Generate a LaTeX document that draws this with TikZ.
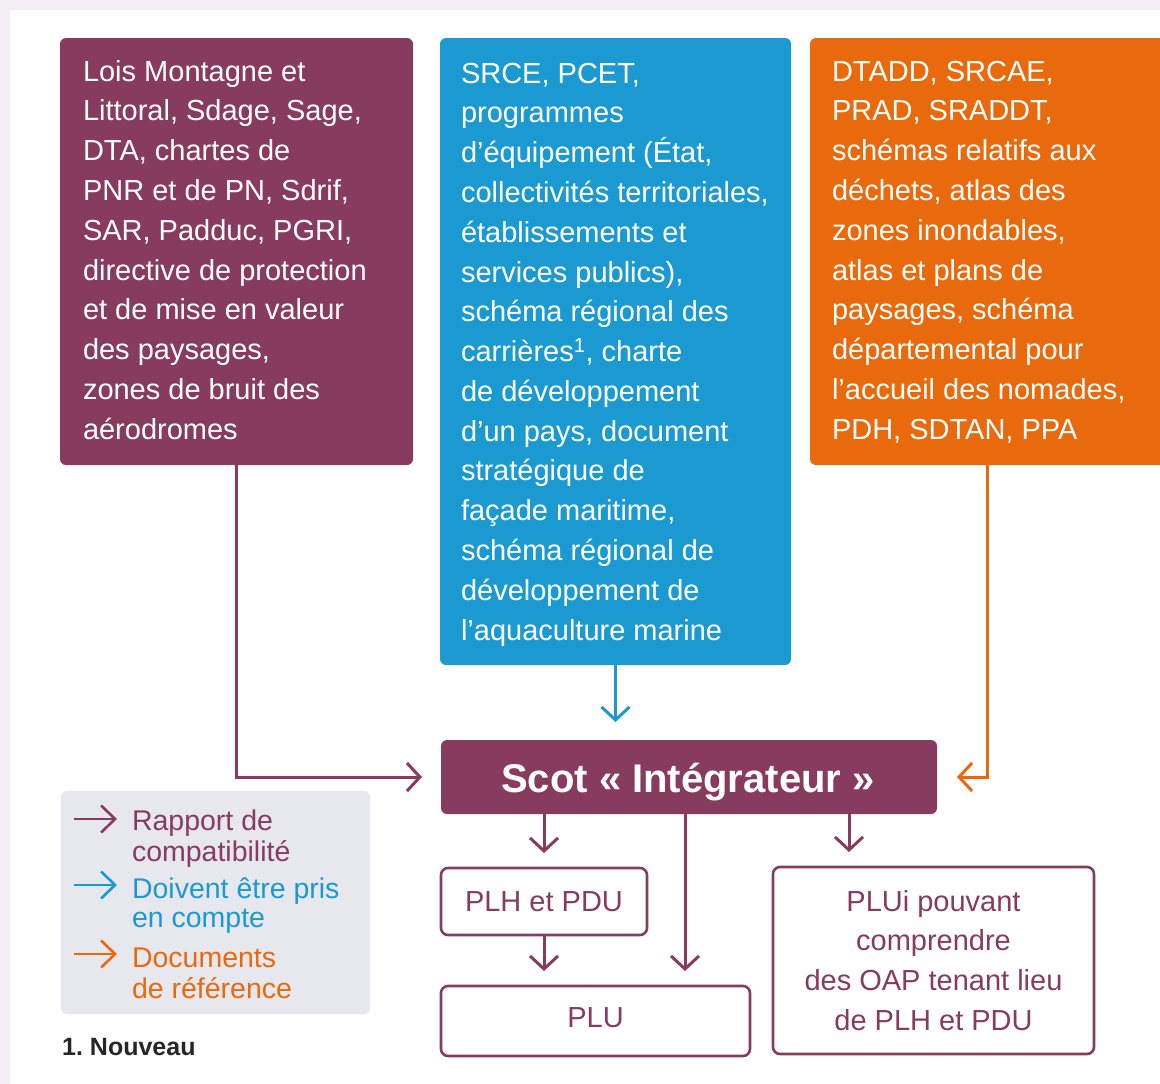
\documentclass[tikz,border=0pt]{standalone}
\usepackage{fontspec}
\setmainfont{Liberation Sans}
\usetikzlibrary{arrows.meta,calc}
\definecolor{cpurple}{HTML}{873B5F}
\definecolor{cblue}{HTML}{1B9AD2}
\definecolor{corange}{HTML}{E9690D}
\definecolor{clegend}{HTML}{E6E8EE}
\definecolor{cframe}{HTML}{F4EFF3}
\tikzset{
  topbox/.style={rectangle, rounded corners=6pt, inner sep=0pt, outer sep=0pt, anchor=north west},
  smallbox/.style={rectangle, rounded corners=7pt, draw=cpurple, line width=2.6pt, fill=white, inner sep=0pt, outer sep=0pt, anchor=north west},
  txt/.style={inner sep=0pt, outer sep=0pt, font=\fontsize{29}{39.8}\selectfont},
  arr/.style={line width=3pt, -{Straight Barb[length=13pt,width=28pt,line width=3pt]}},
  larr/.style={line width=2.6pt, -{Straight Barb[length=14pt,width=27pt,line width=2.6pt]}}
}
\begin{document}
\begin{tikzpicture}[x=1pt,y=-1pt]
\useasboundingbox (0,0) rectangle (1160,1084);
\fill[cframe] (0,0) rectangle (1160,1084);
\fill[white] (10,10) rectangle (1160,1084);

% top boxes
\node[topbox, fill=cpurple, minimum width=353pt, minimum height=427pt] (lbox) at (60,38) {};
\node[topbox, fill=cblue, minimum width=351pt, minimum height=627pt] (bbox) at (440,38) {};
\node[topbox, fill=corange, minimum width=370pt, minimum height=427pt] (obox) at (810,38) {};

\node[txt, text=white, anchor=base west] (ltext) at (83,81) {\vtop{%
\hbox{Lois Montagne et}
\hbox{Littoral, Sdage, Sage,}
\hbox{DTA, chartes de}
\hbox{PNR et de PN, Sdrif,}
\hbox{SAR, Padduc, PGRI,}
\hbox{directive de protection}
\hbox{et de mise en valeur}
\hbox{des paysages,}
\hbox{zones de bruit des}
\hbox{aérodromes}}};

\node[txt, text=white, anchor=base west] (btext) at (461,83) {\vtop{%
\hbox{SRCE, PCET,}
\hbox{programmes}
\hbox{d’équipement (État,}
\hbox{collectivités territoriales,}
\hbox{établissements et}
\hbox{services publics),}
\hbox{schéma régional des}
\hbox{carrières\textsuperscript{1}, charte}
\hbox{de développement}
\hbox{d’un pays, document}
\hbox{stratégique de}
\hbox{façade maritime,}
\hbox{schéma régional de}
\hbox{développement de}
\hbox{l’aquaculture marine}}};

\node[txt, text=white, anchor=base west] (otext) at (832,81) {\vtop{%
\hbox{DTADD, SRCAE,}
\hbox{PRAD, SRADDT,}
\hbox{schémas relatifs aux}
\hbox{déchets, atlas des}
\hbox{zones inondables,}
\hbox{atlas et plans de}
\hbox{paysages, schéma}
\hbox{départemental pour}
\hbox{l’accueil des nomades,}
\hbox{PDH, SDTAN, PPA}}};

% Scot
\node[topbox, fill=cpurple, minimum width=496pt, minimum height=74pt] (scot) at (441,740) {};
\node[inner sep=0pt, text=white, font=\fontsize{40}{48}\selectfont\bfseries, anchor=base] (scottext) at (688,792) {Scot « Intégrateur »};

% lower boxes
\node[smallbox, minimum width=206pt, minimum height=67pt] (plh) at (441,868) {};
\node[smallbox, minimum width=309pt, minimum height=70pt] (plu) at (441,986) {};
\node[smallbox, minimum width=321pt, minimum height=187pt] (plui) at (773,867) {};

\node[txt, text=cpurple] (plhtext) at (plh.center) {PLH et PDU};
\node[txt, text=cpurple] (plutext) at ($(plu.center)+(0,-3)$) {PLU};
\node[txt, text=cpurple, anchor=base] (pluitext) at (933.5,911) {\vtop{%
\hbox to 0pt{\hss PLUi pouvant\hss}
\hbox to 0pt{\hss comprendre\hss}
\hbox to 0pt{\hss des OAP tenant lieu\hss}
\hbox to 0pt{\hss de PLH et PDU\hss}}};

% connectors
\coordinate (ostart) at (987,465);
\draw[arr, cpurple, shorten >=19pt] (lbox.south) |- (scot.west);
\draw[arr, cblue, shorten >=18pt] (bbox.south) -- (bbox.south |- scot.north);
\draw[arr, corange, shorten >=20pt] (ostart) |- (scot.east);

\coordinate (s2) at (685,814);
\coordinate (s3) at (849,814);
\draw[arr, cpurple, shorten >=15pt] (plh.north |- scot.south) -- (plh.north);
\draw[arr, cpurple, shorten >=15pt] (s2) -- (s2 |- plu.north);
\draw[arr, cpurple, shorten >=15pt] (s3) -- (s3 |- plui.north);
\draw[arr, cpurple, shorten >=15pt] (plh.south) -- (plh.south |- plu.north);

% legend
\node[topbox, fill=clegend, minimum width=309pt, minimum height=223pt] (legend) at (61,791) {};
\coordinate (la1) at (74,819);
\coordinate (lb1) at (117,819);
\coordinate (la2) at (74,885);
\coordinate (lb2) at (117,885);
\coordinate (la3) at (74,954);
\coordinate (lb3) at (117,954);
\draw[larr, cpurple] (la1) -- (lb1);
\draw[larr, cblue] (la2) -- (lb2);
\draw[larr, corange] (la3) -- (lb3);
\node[txt, text=cpurple, anchor=base west, font=\fontsize{28.5}{31}\selectfont] (lt1) at (132,830) {\vtop{\hbox{Rapport de}\hbox{compatibilité}}};
\node[txt, text=cblue, anchor=base west, font=\fontsize{28.5}{29}\selectfont] (lt2) at (132,898) {\vtop{\hbox{Doivent être pris}\hbox{en compte}}};
\node[txt, text=corange, anchor=base west, font=\fontsize{28.5}{31}\selectfont] (lt3) at (132,967) {\vtop{\hbox{Documents}\hbox{de référence}}};

\node[inner sep=0pt, anchor=base west, font=\fontsize{25}{30}\selectfont\bfseries, text=black!85] (note) at (62,1055) {1.\ Nouveau};
\end{tikzpicture}
\end{document}
